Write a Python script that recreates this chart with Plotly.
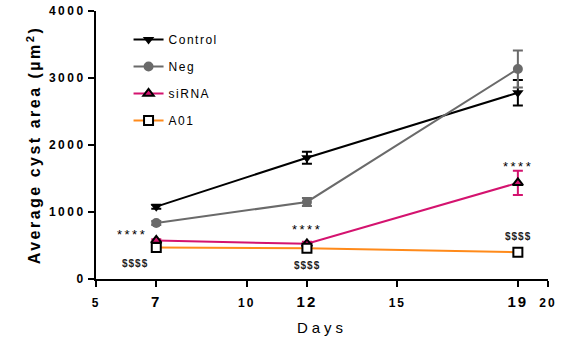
import plotly.graph_objects as go

days = [7, 12, 19]
control = [1080, 1810, 2780]
control_err = [30, 90, 190]
neg = [835, 1150, 3135]
neg_err = [30, 60, 275]
sirna = [575, 525, 1435]
sirna_err = [20, 30, 180]
a01 = [470, 460, 400]
a01_err = [15, 15, 15]

x_tickvals = [5, 7, 10, 12, 15, 19, 20]
x_ticklabels = ["5", "7", "10", "12", "15", "19", "20"]
x_big = [False, True, False, True, False, True, False]
y_tickvals = [0, 1000, 2000, 3000, 4000]
y_ticklabels = ["0", "1000", "2000", "3000", "4000"]

star_x = [6.2, 12, 19]
star_y = [665, 735, 1680]
dollar_x = [6.3, 12, 19]
dollar_y = [225, 205, 635]

FONT = "Liberation Sans, Arial, sans-serif"


def sp(text, ls=2, size=None):
    style = f"letter-spacing:{ls}px"
    if size:
        style += f";font-size:{size}px"
    return f"<span style='{style}'>{text}</span>"


fig = go.Figure()


def add(name, y, err, color, marker):
    fig.add_trace(go.Scatter(
        x=days, y=y, name=sp(name, 1.5), mode="lines+markers",
        line=dict(color=color, width=2),
        marker=marker,
        error_y=dict(type="data", array=err, color=color, thickness=2, width=5),
        legendgroup=name,
    ))


add("Control", control, control_err, "black",
    dict(symbol="triangle-down", size=10, color="black"))
add("Neg", neg, neg_err, "#6a6a6a",
    dict(symbol="circle", size=10, color="#6a6a6a"))
add("siRNA", sirna, sirna_err, "#d4136f",
    dict(symbol="triangle-up", size=9, color="#d4136f", line=dict(color="black", width=2)))
add("A01", a01, a01_err, "#ff8a1a",
    dict(symbol="square", size=9, color="white", line=dict(color="black", width=2)))

for xx, yy in zip(star_x, star_y):
    fig.add_annotation(x=xx, y=yy, text=sp("****", 2.5), showarrow=False,
                       font=dict(family=FONT, size=13, color="black"))
for xx, yy in zip(dollar_x, dollar_y):
    fig.add_annotation(x=xx, y=yy, text="<b>" + sp("$$$$", 1) + "</b>", showarrow=False,
                       font=dict(family=FONT, size=10, color="#222"))

x_ticktext = [sp(t, 2, 15 if b else None) for t, b in zip(x_ticklabels, x_big)]
y_ticktext = [sp(t, 2.5) for t in y_ticklabels]

fig.update_layout(
    width=571, height=341,
    margin=dict(l=96, r=23, t=11, b=62),
    paper_bgcolor="white", plot_bgcolor="white",
    font=dict(family=FONT, color="black"),
    showlegend=True,
    legend=dict(x=0.072, y=0.948, xanchor="left", yanchor="top",
                font=dict(size=12, family=FONT), tracegroupgap=8,
                bgcolor="rgba(0,0,0,0)"),
    xaxis=dict(range=[5, 20], tickvals=x_tickvals, ticktext=x_ticktext,
               automargin=False,
               showline=True, linecolor="black", linewidth=2,
               ticks="outside", ticklen=6, tickwidth=2, tickcolor="black",
               ticklabelstandoff=6,
               showgrid=False, zeroline=False,
               tickfont=dict(size=12, family=FONT, weight="bold"),
               title=dict(text=sp("Days", 4), font=dict(size=15, family=FONT), standoff=13)),
    yaxis=dict(range=[0, 4000], tickvals=y_tickvals, ticktext=y_ticktext,
               automargin=False, ticklabeloverflow="allow",
               showline=True, linecolor="black", linewidth=2,
               ticks="outside", ticklen=6, tickwidth=2, tickcolor="black",
               showgrid=False, zeroline=False,
               tickfont=dict(size=12, family=FONT, weight="bold"),
               title=dict(text="<b>" + sp("Average cyst area (µm<sup>2</sup>)", 2.5) + "</b>",
                          font=dict(size=16, family=FONT), standoff=4)),
)

fig.write_html("out.html", config={"displayModeBar": False},
               post_script="document.body.style.margin='0';")
